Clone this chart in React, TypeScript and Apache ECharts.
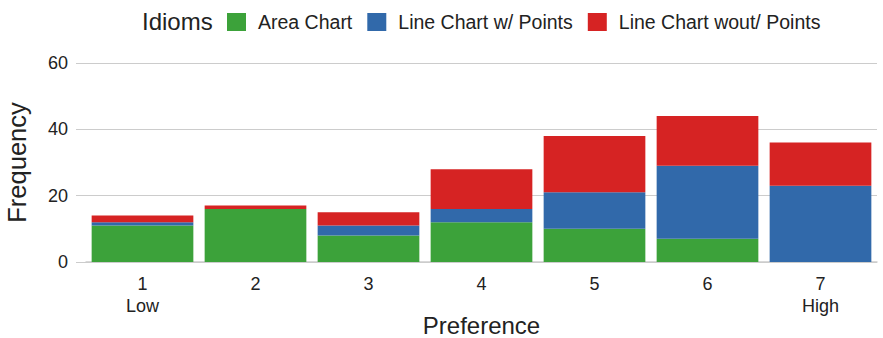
import React, { useEffect, useRef } from "react";
import * as echarts from "echarts";

const categories = ["1\nLow", "2", "3", "4", "5", "6", "7\nHigh"];
const areaChart = [11, 16, 8, 12, 10, 7, 0];
const lineWithPoints = [1, 0, 3, 4, 11, 22, 23];
const lineWithoutPoints = [2, 1, 4, 12, 17, 15, 13];
const yTicks = [0, 20, 40, 60];

const FONT = "Liberation Sans, Arial, sans-serif";

export default function App() {
  const ref = useRef<HTMLDivElement>(null);
  useEffect(() => {
    if (!ref.current) return;
    const chart = echarts.init(ref.current, null, { renderer: "svg" });
    const mk = (name: string, data: number[], color: string) => ({
      name,
      type: "bar",
      stack: "total",
      data,
      barCategoryGap: "10%",
      itemStyle: { color },
    });
    chart.setOption({
      animation: false,
      textStyle: { fontFamily: FONT },
      graphic: [
        {
          type: "text",
          x: 142,
          y: 21,
          style: {
            text: "Idioms",
            font: `24px ${FONT}`,
            fill: "#222",
            verticalAlign: "middle",
            align: "left",
          },
        },
      ],
      legend: {
        left: 227,
        top: 12,
        itemWidth: 19,
        itemHeight: 18,
        itemGap: 15,
        icon: "rect",
        textStyle: {
          fontSize: 19.5,
          color: "#222",
          fontFamily: FONT,
          padding: [0, 0, 0, 7],
        },
        data: ["Area Chart", "Line Chart w/ Points", "Line Chart wout/ Points"],
        padding: 0,
      },
      grid: { left: 86, right: 6, top: 63, bottom: 76, outerBoundsMode: "none" },
      xAxis: {
        type: "category",
        data: categories,
        name: "Preference",
        nameLocation: "middle",
        nameGap: 52,
        nameMoveOverlap: false,
        nameTextStyle: { fontSize: 24, lineHeight: 22, color: "#222", fontFamily: FONT },
        axisLine: { show: true, lineStyle: { color: "#cccccc", width: 1.5 } },
        axisTick: { show: false },
        axisLabel: {
          fontSize: 18,
          color: "#222",
          margin: 11,
          lineHeight: 22,
          fontFamily: FONT,
        },
      },
      yAxis: {
        type: "value",
        min: yTicks[0],
        max: yTicks[yTicks.length - 1],
        interval: 20,
        name: "Frequency",
        nameLocation: "middle",
        nameGap: 56,
        nameMoveOverlap: false,
        nameTextStyle: { fontSize: 25.5, color: "#222", fontFamily: FONT },
        axisLine: { show: false },
        axisTick: { show: true, inside: false, length: 10, lineStyle: { color: "#cccccc", width: 1 } },
        axisLabel: { fontSize: 18, color: "#222", margin: 18, fontFamily: FONT },
        splitLine: { lineStyle: { color: "#cccccc", width: 1 } },
      },
      series: [
        mk("Area Chart", areaChart, "#3ca23a"),
        mk("Line Chart w/ Points", lineWithPoints, "#3169aa"),
        mk("Line Chart wout/ Points", lineWithoutPoints, "#d62323"),
      ],
    });
    return () => chart.dispose();
  }, []);
  return (
    <div
      ref={ref}
      style={{ width: 883, height: 338, position: "absolute", left: 0, top: 0 }}
    />
  );
}
